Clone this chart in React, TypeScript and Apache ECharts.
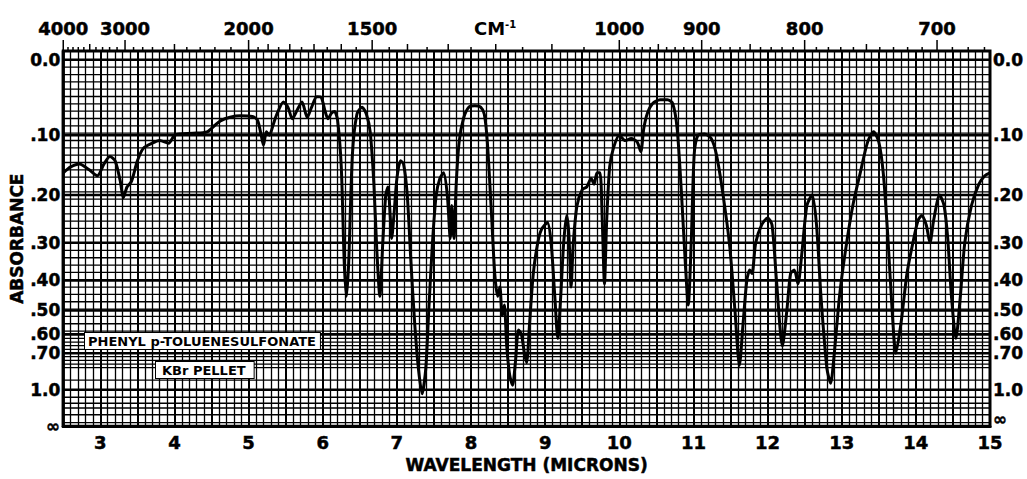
import React, { useEffect, useRef } from "react";
import * as echarts from "echarts";

// Spectrum: wavelength (microns) and absorbance
const wavelength = [
  2.5, 2.6, 2.72, 2.85, 2.96, 3.05, 3.13, 3.2, 3.27, 3.31, 3.36, 3.42, 3.5, 3.58, 3.7, 3.8, 3.92, 4.0, 4.08, 4.25,
  4.44, 4.55, 4.62, 4.75, 4.89, 5.05, 5.12, 5.17, 5.2, 5.24, 5.28, 5.33, 5.38, 5.47, 5.53, 5.59, 5.65, 5.72, 5.79, 5.85,
  5.92, 5.98, 6.03, 6.07, 6.12, 6.16, 6.2, 6.25, 6.29, 6.32, 6.35, 6.4, 6.46, 6.53, 6.59, 6.64, 6.69, 6.73, 6.77, 6.81,
  6.85, 6.88, 6.91, 6.93, 6.96, 7.0, 7.05, 7.09, 7.14, 7.19, 7.24, 7.29, 7.34, 7.39, 7.43, 7.48, 7.53, 7.58, 7.63, 7.68,
  7.72, 7.74, 7.77, 7.8, 7.84, 7.9, 7.97, 8.05, 8.13, 8.18, 8.22, 8.27, 8.32, 8.36, 8.39, 8.42, 8.45, 8.48, 8.52, 8.56,
  8.6, 8.64, 8.68, 8.72, 8.75, 8.79, 8.84, 8.9, 8.95, 9.03, 9.08, 9.13, 9.17, 9.21, 9.25, 9.29, 9.32, 9.35, 9.38, 9.43,
  9.5, 9.56, 9.62, 9.66, 9.7, 9.74, 9.77, 9.8, 9.83, 9.87, 9.92, 10.0, 10.08, 10.16, 10.24, 10.29, 10.33, 10.38, 10.45, 10.55,
  10.65, 10.72, 10.78, 10.84, 10.89, 10.93, 10.97, 11.01, 11.06, 11.15, 11.24, 11.31, 11.4, 11.49, 11.56, 11.62, 11.67, 11.72, 11.76, 11.79,
  11.84, 11.92, 12.0, 12.06, 12.12, 12.2, 12.26, 12.31, 12.36, 12.41, 12.46, 12.53, 12.6, 12.66, 12.72, 12.8, 12.85, 12.9, 12.97, 13.05,
  13.15, 13.25, 13.35, 13.43, 13.5, 13.56, 13.62, 13.68, 13.73, 13.8, 13.88, 13.96, 14.03, 14.08, 14.14, 14.19, 14.24, 14.32, 14.38, 14.43,
  14.48, 14.54, 14.6, 14.66, 14.75, 14.85, 14.93, 15.0,
];
const absorbance = [
  0.16, 0.15, 0.145, 0.155, 0.165, 0.145, 0.133, 0.14, 0.175, 0.205, 0.185, 0.175, 0.14, 0.12, 0.112, 0.108, 0.112, 0.1, 0.098, 0.097,
  0.095, 0.085, 0.079, 0.074, 0.072, 0.073, 0.078, 0.1, 0.115, 0.095, 0.1, 0.085, 0.07, 0.053, 0.06, 0.076, 0.065, 0.053, 0.074, 0.06,
  0.046, 0.047, 0.065, 0.076, 0.068, 0.066, 0.078, 0.15, 0.35, 0.45, 0.35, 0.13, 0.07, 0.06, 0.07, 0.095, 0.18, 0.32, 0.45, 0.3,
  0.2, 0.185, 0.24, 0.29, 0.24, 0.17, 0.14, 0.145, 0.2, 0.35, 0.55, 0.8, 1.05, 0.8, 0.5, 0.3, 0.2, 0.17, 0.16, 0.2,
  0.29, 0.22, 0.29, 0.18, 0.11, 0.075, 0.06, 0.058, 0.06, 0.07, 0.11, 0.22, 0.38, 0.45, 0.42, 0.52, 0.48, 0.65, 0.85, 0.95,
  0.75, 0.58, 0.6, 0.7, 0.76, 0.55, 0.38, 0.3, 0.27, 0.255, 0.3, 0.45, 0.62, 0.45, 0.3, 0.24, 0.28, 0.42, 0.3, 0.22,
  0.19, 0.185, 0.17, 0.18, 0.16, 0.16, 0.25, 0.41, 0.25, 0.15, 0.12, 0.1, 0.108, 0.105, 0.11, 0.125, 0.09, 0.068, 0.055, 0.05,
  0.05, 0.055, 0.09, 0.2, 0.35, 0.48, 0.3, 0.13, 0.1, 0.098, 0.105, 0.13, 0.2, 0.31, 0.5, 0.78, 0.55, 0.4, 0.37, 0.38,
  0.3, 0.26, 0.245, 0.26, 0.4, 0.66, 0.5, 0.38, 0.37, 0.41, 0.33, 0.22, 0.2, 0.26, 0.45, 0.8, 0.93, 0.7, 0.45, 0.32,
  0.22, 0.16, 0.11, 0.095, 0.11, 0.16, 0.28, 0.5, 0.7, 0.55, 0.38, 0.3, 0.25, 0.24, 0.26, 0.3, 0.25, 0.2, 0.22, 0.29,
  0.45, 0.62, 0.45, 0.3, 0.22, 0.18, 0.165, 0.16,
];

// Absorbance axis labels (chart paper is linear in transmittance)
const absLabelValues = [0, 0.1, 0.2, 0.3, 0.4, 0.5, 0.6, 0.7, 1.0, Infinity];
const absLabelTexts = ["0.0", ".10", ".20", ".30", ".40", ".50", ".60", ".70", "1.0", "\u221e"];

// Chart-paper horizontal rulings, in transmittance / absorbance
const paperStepT = 0.02; // regular rulings from T = 1.00 down to T = 0.26
const paperDenseT = [0.25, 0.24, 0.23, 0.22, 0.21, 0.2, 0.19, 0.18, 0.17, 0.16];
const paperLowA = [0.9, 1.1, 1.2, 1.3, 1.5, 2.0];

// Top wavenumber scale (cm-1)
const topLabelWavenumbers = [4000, 3000, 2000, 1500, 1000, 900, 800, 700];
const topTickRanges = [
  { from: 4000, to: 2000, step: 100 },
  { from: 2000, to: 1000, step: 50 },
  { from: 1000, to: 670, step: 10 },
];

const X_MIN = 2.5;
const X_MAX = 15;
const T_MAX = 1.0242;
const FONT = "DejaVu Sans";

const toT = (a: number) => (a === Infinity ? 0 : Math.pow(10, -a));

export default function App() {
  const ref = useRef<HTMLDivElement>(null);

  useEffect(() => {
    if (!ref.current) return;
    const chart = echarts.init(ref.current, undefined, { renderer: "svg" });

    const topTicks: number[][] = [];
    topTickRanges.forEach((r) => {
      for (let wn = r.from; wn >= r.to; wn -= r.step) {
        if (topTicks.some((t) => t[2] === wn)) continue;
        let len = 4;
        if (topLabelWavenumbers.includes(wn)) len = 11;
        else if ((wn > 2000 && wn % 500 === 0) || (wn <= 2000 && wn > 1000 && wn % 100 === 0) || (wn < 1000 && wn % 50 === 0)) len = 7;
        topTicks.push([10000 / wn, T_MAX, wn, len]);
      }
    });

    const rulings: number[][] = [];
    for (let k = 0; k <= 37; k++) rulings.push([X_MIN, 1 - k * paperStepT]);
    paperDenseT.forEach((t) => rulings.push([X_MIN, t]));
    paperLowA.forEach((a) => rulings.push([X_MIN, toT(a)]));

    const labelData = absLabelValues.map((a, i) => [X_MIN, toT(a), i]);
    const topLabelData = topLabelWavenumbers.map((wn) => [10000 / wn, T_MAX, wn]);

    // emboldening outline for element texts (custom series / graphic)
    const elBold = { fontWeight: "bold", fontFamily: FONT, fill: "#000", stroke: "#000", lineWidth: 0.5 };
    // emboldening outline for axis texts
    const axBold = { fontWeight: "bold", fontFamily: FONT, color: "#000", textBorderColor: "#000", textBorderWidth: 0.5 };

    const option: any = {
      animation: false,
      backgroundColor: "#fff",
      grid: {
        left: 63,
        right: 37,
        top: 51,
        bottom: 47,
        show: true,
        borderColor: "#000",
        borderWidth: 3,
        backgroundColor: "transparent",
      },
      xAxis: {
        type: "value",
        min: X_MIN,
        max: X_MAX,
        interval: 0.5,
        axisLine: { show: true, onZero: false, lineStyle: { color: "#000", width: 3 } },
        axisTick: { show: false },
        minorTick: { show: false, splitNumber: 5 },
        axisLabel: {
          fontSize: 18,
          ...axBold,
          margin: 7,
          formatter: (v: number) => (Math.abs(v - Math.round(v)) < 1e-6 ? String(Math.round(v)) : ""),
        },
        splitLine: { show: true, lineStyle: { color: "#000", width: 2 } },
        minorSplitLine: { show: true, lineStyle: { color: "#000", width: 1.3 } },
        name: "WAVELENGTH (MICRONS)",
        nameLocation: "middle",
        nameGap: 30,
        nameTextStyle: { fontSize: 17, ...axBold },
      },
      yAxis: {
        type: "value",
        min: 0,
        max: T_MAX,
        interval: 0.1,
        axisLine: { show: true, lineStyle: { color: "#000", width: 3 } },
        axisTick: { show: false },
        axisLabel: { show: false },
        splitLine: { show: false },
        name: "ABSORBANCE",
        nameLocation: "middle",
        nameGap: 38,
        nameRotate: 90,
        nameTextStyle: { fontSize: 17, ...axBold },
      },
      series: [
        {
          type: "custom",
          name: "rulings",
          silent: true,
          z: 1,
          data: rulings,
          renderItem: (params: any, api: any) => {
            const l = api.coord([X_MIN, api.value(1)]);
            const r = api.coord([X_MAX, api.value(1)]);
            return {
              type: "line",
              shape: { x1: l[0], y1: l[1], x2: r[0], y2: r[1] },
              style: { stroke: "#000", lineWidth: 1.3 },
            };
          },
        },
        {
          type: "custom",
          name: "absLabels",
          silent: true,
          clip: false,
          z: 5,
          data: labelData,
          renderItem: (params: any, api: any) => {
            const t = api.value(1);
            const i = api.value(2);
            const l = api.coord([X_MIN, t]);
            const r = api.coord([X_MAX, t]);
            const txt = absLabelTexts[i];
            const isInf = i === absLabelTexts.length - 1;
            const ts = { ...elBold, fontSize: 17, verticalAlign: "middle" };
            return {
              type: "group",
              children: [
                { type: "line", shape: { x1: l[0], y1: l[1], x2: r[0], y2: r[1] }, style: { stroke: "#000", lineWidth: 2.5 } },
                { type: "text", x: l[0] - 3, y: l[1], style: { ...ts, text: txt, align: "right" } },
                { type: "text", x: r[0] + 3, y: r[1] - (isInf ? 7 : 0), style: { ...ts, text: txt, align: "left" } },
              ],
            };
          },
        },
        {
          type: "custom",
          name: "topTicks",
          silent: true,
          clip: false,
          z: 5,
          data: topTicks,
          renderItem: (params: any, api: any) => {
            const p = api.coord([api.value(0), api.value(1)]);
            const len = api.value(3);
            return {
              type: "line",
              shape: { x1: p[0], y1: p[1], x2: p[0], y2: p[1] - len },
              style: { stroke: "#000", lineWidth: 1.5 },
            };
          },
        },
        {
          type: "custom",
          name: "topLabels",
          silent: true,
          clip: false,
          z: 5,
          data: topLabelData,
          renderItem: (params: any, api: any) => {
            const p = api.coord([api.value(0), api.value(1)]);
            return {
              type: "text",
              x: p[0],
              y: p[1] - 14,
              style: {
                ...elBold,
                text: String(api.value(2)),
                fontSize: 18,
                align: "center",
                verticalAlign: "bottom",
              },
            };
          },
        },
        {
          type: "line",
          name: "spectrum",
          data: wavelength.map((w, i) => [w, toT(absorbance[i])]),
          showSymbol: false,
          smooth: 0.25,
          z: 10,
          lineStyle: { color: "#000", width: 3 },
          silent: true,
        },
      ],
      graphic: [
        {
          type: "text",
          left: 474,
          top: 19,
          style: {
            text: "{a|CM}{b|-1}",
            rich: {
              a: { fontSize: 18, fontWeight: "bold", fontFamily: FONT, fill: "#000" },
              b: { fontSize: 10, fontWeight: "bold", fontFamily: FONT, fill: "#000", verticalAlign: "top", padding: [0, 0, 8, 0] },
            },
          },
        },
        {
          type: "text",
          left: 84,
          top: 332,
          z: 20,
          style: {
            text: "PHENYL p-TOLUENESULFONATE",
            fontSize: 13,
            fontWeight: "bold",
            fontFamily: FONT,
            fill: "#000",
            backgroundColor: "#fff",
            borderColor: "#000",
            borderWidth: 1,
            padding: [2, 4, 1, 3],
          },
        },
        {
          type: "text",
          left: 155,
          top: 361,
          z: 20,
          style: {
            text: "KBr PELLET",
            fontSize: 13,
            fontWeight: "bold",
            fontFamily: FONT,
            fill: "#000",
            backgroundColor: "#fff",
            borderColor: "#000",
            borderWidth: 1,
            padding: [2, 8, 1, 6],
          },
        },
      ],
    };

    chart.setOption(option);
    return () => chart.dispose();
  }, []);

  return <div ref={ref} style={{ position: "fixed", left: 0, top: 0, width: 1027, height: 479, background: "#fff" }} />;
}
